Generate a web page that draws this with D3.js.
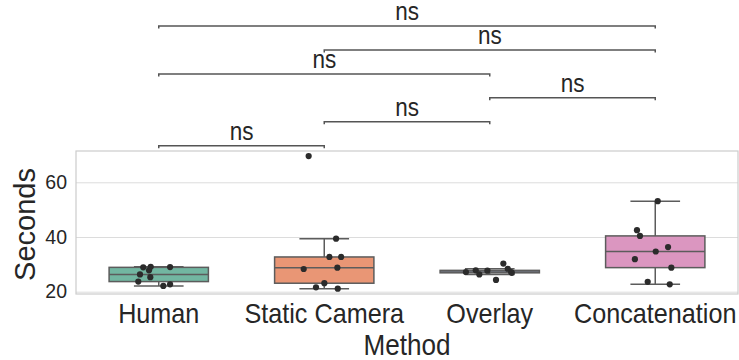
<!DOCTYPE html>
<html>
<head>
<meta charset="utf-8">
<script src="https://cdn.jsdelivr.net/npm/d3@7"></script>
<style>
  body { margin: 0; background: #fff; }
  text { font-family: "Liberation Sans", Arial, sans-serif; fill: #262626; }
</style>
</head>
<body>
<div id="chart"></div>
<script>
// data
var methods = ["Human", "Static Camera", "Overlay", "Concatenation"];
var humanSec = [28.9, 29.1, 29.0, 27.8, 26.3, 25.3, 23.7, 22.1, 22.7];
var staticSec = [69.6, 39.4, 32.7, 32.7, 28.3, 28.8, 23.1, 21.6, 21.1];
var overlaySec = [27.2, 27.8, 26.3, 27.7, 24.3, 30.3, 28.4, 27.2, 26.9];
var concatSec = [53.1, 42.5, 40.4, 36.3, 34.7, 31.9, 28.8, 23.6, 22.7];
// strip jitter, as fraction of box width
var humanJit = [-0.156, -0.081, 0.114, -0.098, -0.189, -0.085, -0.206, 0.046, 0.114];
var staticJit = [-0.157, 0.119, 0.052, 0.170, -0.207, 0.132, 0.001, -0.083, 0.136];
var overlayJit = [-0.240, -0.141, -0.105, -0.024, 0.063, 0.137, 0.181, 0.215, 0.222];
var concatJit = [0.025, -0.184, -0.154, 0.129, 0.005, -0.205, 0.162, -0.076, 0.146];
var yTicks = [20, 40, 60];
// significance pairs, top bracket first
var pairA = ["Human", "Static Camera", "Human", "Overlay", "Static Camera", "Human"];
var pairB = ["Concatenation", "Concatenation", "Overlay", "Concatenation", "Overlay", "Static Camera"];
var pairLabel = ["ns", "ns", "ns", "ns", "ns", "ns"];

var palette = ["#66c2a5", "#fc8d62", "#8da0cb", "#e78ac3"];

const width = 739, height = 360;
const margin = {top: 151, right: 1, bottom: 66, left: 76};
const w = width - margin.left - margin.right;
const h = height - margin.top - margin.bottom;

const svg = d3.select("#chart").append("svg")
  .attr("width", width)
  .attr("height", height);

const g = svg.append("g")
  .attr("transform", `translate(${margin.left},${margin.top})`);

const x = d3.scaleBand()
  .domain(methods)
  .range([0, w])
  .paddingInner(0.4)
  .paddingOuter(0.2);

const y = d3.scaleLinear()
  .domain([19.16, 71.44])
  .range([h, 0]);

// gridlines + y tick labels
const yAxis = g.append("g")
  .call(d3.axisLeft(y).tickValues(yTicks).tickSizeInner(-w).tickSizeOuter(0).tickPadding(9))
yAxis.select(".domain").remove();
yAxis.selectAll("line").attr("stroke", "#dcdcdc").attr("stroke-width", 1);
yAxis.selectAll("text")
  .style("font-size", "19.5px")
  .style("font-family", "Liberation Sans, Arial, sans-serif")
  .attr("fill", "#262626");

// frame
g.append("rect")
  .attr("x", 0).attr("y", 0)
  .attr("width", w).attr("height", h)
  .attr("fill", "none")
  .attr("stroke", "#cccccc")
  .attr("stroke-width", 1.2);

// x axis labels
const xAxis = g.append("g")
  .attr("transform", `translate(0,${h})`)
  .call(d3.axisBottom(x).tickSize(0));
xAxis.select(".domain").remove();
xAxis.selectAll("text")
  .attr("y", 29).attr("dy", 0)
  .attr("transform", "scale(0.9,1)")
  .style("font-size", "28px")
  .style("font-family", "Liberation Sans, Arial, sans-serif")
  .attr("fill", "#262626");

var groups = [
  {name: methods[0], vals: humanSec, jit: humanJit},
  {name: methods[1], vals: staticSec, jit: staticJit},
  {name: methods[2], vals: overlaySec, jit: overlayJit},
  {name: methods[3], vals: concatSec, jit: concatJit}
];

const lineCol = "#5c5c5c";
const bw = x.bandwidth();

groups.forEach(function (grp, i) {
  var s = grp.vals.slice().sort(d3.ascending);
  var q1 = d3.quantile(s, 0.25), med = d3.quantile(s, 0.5), q3 = d3.quantile(s, 0.75);
  var iqr = q3 - q1;
  var lo = d3.min(s.filter(v => v >= q1 - 1.5 * iqr));
  var hi = d3.max(s.filter(v => v <= q3 + 1.5 * iqr));
  var cx = x(grp.name) + bw / 2;
  var c = d3.hsl(palette[i]);
  c.s = c.s * 0.75;

  var bg = g.append("g");
  // whiskers
  bg.append("line").attr("x1", cx).attr("x2", cx).attr("y1", y(q3)).attr("y2", y(hi))
    .attr("stroke", lineCol).attr("stroke-width", 1.5);
  bg.append("line").attr("x1", cx).attr("x2", cx).attr("y1", y(q1)).attr("y2", y(lo))
    .attr("stroke", lineCol).attr("stroke-width", 1.5);
  [lo, hi].forEach(function (v) {
    bg.append("line")
      .attr("x1", cx - bw / 4).attr("x2", cx + bw / 4)
      .attr("y1", y(v)).attr("y2", y(v))
      .attr("stroke", lineCol).attr("stroke-width", 1.5);
  });
  bg.append("rect")
    .attr("x", cx - bw / 2).attr("width", bw)
    .attr("y", y(q3)).attr("height", y(q1) - y(q3))
    .attr("fill", c.formatHex())
    .attr("stroke", lineCol).attr("stroke-width", 1.5);
  bg.append("line")
    .attr("x1", cx - bw / 2).attr("x2", cx + bw / 2)
    .attr("y1", y(med)).attr("y2", y(med))
    .attr("stroke", lineCol).attr("stroke-width", 1.5);

  // strip points
  bg.selectAll("circle")
    .data(grp.vals)
    .join("circle")
    .attr("cx", (d, j) => cx + grp.jit[j] * bw)
    .attr("cy", d => y(d))
    .attr("r", 3.1)
    .attr("fill", "#2b2b2b");
});

// significance brackets above the axes
const level = d3.scaleLinear().domain([0, 5]).range([26, 145.7]);
pairA.forEach(function (a, i) {
  var x1 = x(a) + bw / 2;
  var x2 = x(pairB[i]) + bw / 2;
  var ly = level(i);
  svg.append("path")
    .attr("d", `M${margin.left + x1},${ly + 2.5}V${ly}H${margin.left + x2}V${ly + 2.5}`)
    .attr("fill", "none")
    .attr("stroke", "#555")
    .attr("stroke-width", 1.5);
  var tx = margin.left + (x1 + x2) / 2;
  svg.append("text")
    .attr("transform", `translate(${tx},${ly - 6}) scale(0.9,1)`)
    .attr("text-anchor", "middle")
    .style("font-size", "25px")
    .text(pairLabel[i]);
});

// axis titles
svg.append("text")
  .attr("transform", `translate(${margin.left + w / 2},355) scale(0.9,1)`)
  .attr("text-anchor", "middle")
  .style("font-size", "29px")
  .text("Method");

svg.append("text")
  .attr("transform", `translate(35,${margin.top + h / 2 + 2}) rotate(-90)`)
  .attr("text-anchor", "middle")
  .style("font-size", "29px")
  .text("Seconds");
</script>
</body>
</html>
